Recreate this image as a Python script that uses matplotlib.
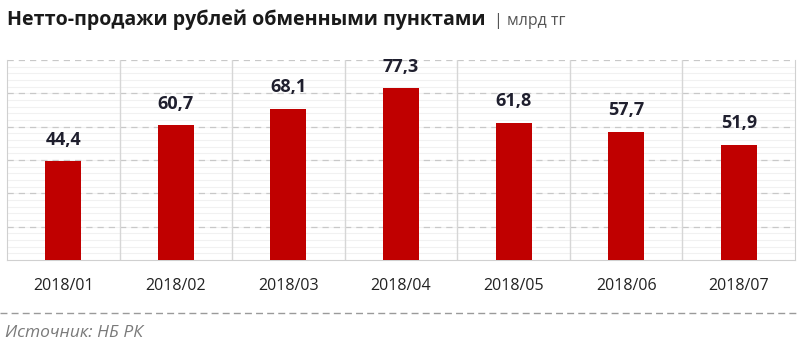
import matplotlib.pyplot as plt
import numpy as np

months = ['2018/01', '2018/02', '2018/03', '2018/04', '2018/05', '2018/06', '2018/07']
sales = [44.4, 60.7, 68.1, 77.3, 61.8, 57.7, 51.9]
labels = ['44,4', '60,7', '68,1', '77,3', '61,8', '57,7', '51,9']

plt.rcParams['font.family'] = ['Open Sans', 'DejaVu Sans']

fig = plt.figure(figsize=(8, 3.52), dpi=100)
ax = fig.add_axes([0.00875, 0.2614, 0.985, 0.5681])

x = np.arange(len(months))

# faint background stripes and dashed grid
for v in np.arange(3, 90, 3):
    ax.axhline(v, color='#f1f1f1', lw=0.8, zorder=0)
for v in np.arange(15, 91, 15):
    ax.axhline(v, color='#c8c8c8', lw=0.9, ls=(0, (5, 4)), zorder=1)
for s in np.arange(0.5, len(months) - 0.5, 1):
    ax.axvline(s, color='#d6d6d6', lw=1, zorder=1)

ax.bar(x, sales, width=0.32, color='#c00000', zorder=3)
for xi, v, lab in zip(x, sales, labels):
    ax.annotate(lab, (xi, v), xytext=(0, 9), textcoords='offset points',
                ha='center', va='bottom', fontsize=13, fontweight='bold',
                color='#1f1f2e')

ax.set_xlim(-0.5, len(months) - 0.5)
ax.set_ylim(0, 90)
ax.set_yticks([])
ax.set_xticks(x)
ax.set_xticklabels(months, fontsize=11.5, color='#222222')
ax.tick_params(axis='x', length=0, pad=13)
for side in ['left', 'bottom', 'right']:
    ax.spines[side].set_color('#d0d0d0')
ax.spines['top'].set_visible(False)

fig.text(0.009, 0.943, 'Нетто-продажи рублей обменными пунктами', fontsize=14.1,
         fontweight='bold', color='#1a1a1a', va='center', ha='left')
fig.text(0.618, 0.941, '| млрд тг', fontsize=11.5, color='#555555', va='center', ha='left')

fig.add_artist(plt.Line2D([0, 1], [1 - 313 / 352] * 2, color='#9a9a9a', lw=1,
                          ls=(0, (5, 3))))
fig.text(0.006, 1 - 333 / 352, 'Источник: НБ РК', fontsize=12.5, style='italic',
         color='#7a7a7a', va='center', ha='left')

fig.savefig('out.png', dpi=100)
